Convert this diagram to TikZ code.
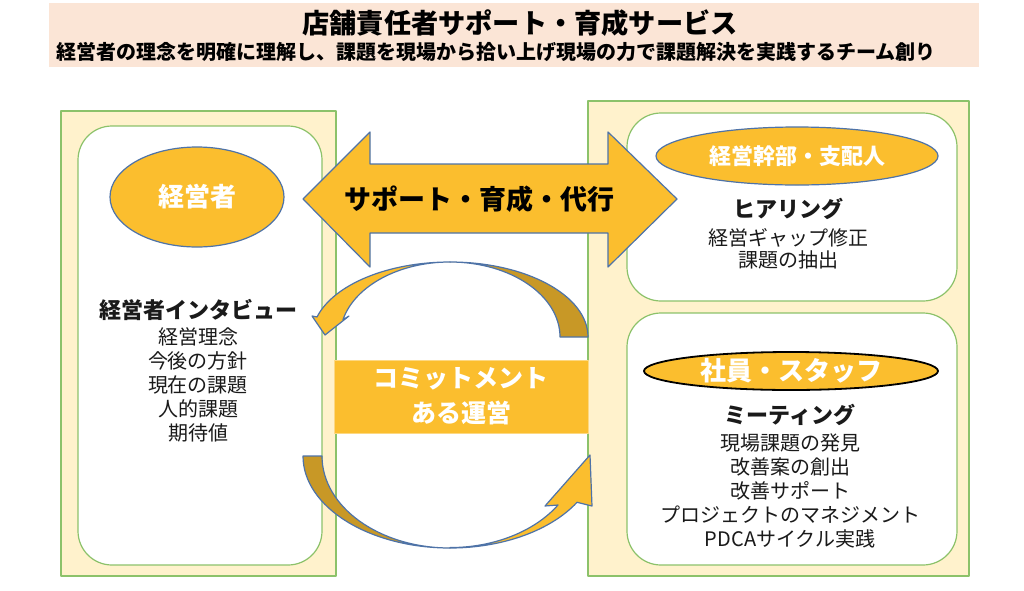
\documentclass[tikz,border=0pt]{standalone}
\usepackage{fontspec}
\setmainfont{Noto Sans CJK JP}
\usetikzlibrary{shapes.geometric}
\definecolor{peach}{HTML}{FBE5D6}
\definecolor{cream}{HTML}{FFF2CC}
\definecolor{leaf}{HTML}{8CC26A}
\definecolor{gold}{HTML}{FBBE2E}
\definecolor{darkgold}{HTML}{C89826}
\definecolor{steel}{HTML}{4E73A8}
\definecolor{ink}{HTML}{1A1A1A}
\begin{document}
\begin{tikzpicture}[x=0.5pt, y=-0.5pt, line join=round,
	panel/.style={draw=leaf, fill=cream, line width=0.6pt},
	card/.style={draw=leaf, fill=white, line width=0.6pt, rounded corners=17pt},
	oval/.style={ellipse, draw=steel, fill=gold, line width=0.6pt, inner sep=0pt, text=white},
	band/.style={draw=steel, line width=0.6pt},
	txt/.style={align=center, text=ink, font=\fontsize{10}{12}\selectfont}]
	\useasboundingbox (0,0) rectangle (1024,590);
	% title band
	\fill[peach] (49,3) rectangle (979,67);
	\node (title) at (520,23) {\fontsize{13.6}{15}\selectfont\bfseries 店舗責任者サポート・育成サービス};
	\node (sub) at (496,52) {\fontsize{10}{12}\selectfont\bfseries 経営者の理念を明確に理解し、課題を現場から拾い上げ現場の力で課題解決を実践するチーム創り};
	% panels
	\draw[panel] (61,111) rectangle (336,576);
	\draw[card] (78,126) rectangle (322,565);
	\draw[panel] (588,101) rectangle (969,576);
	\draw[card] (627,113) rectangle (957,301);
	\draw[card] (627,313) rectangle (957,565);
	% left side
	\node[oval, minimum width=87pt, minimum height=50pt, font=\fontsize{13}{15}\selectfont\bfseries] (owner) at (197,197) {経営者};
	\node[txt] (interview) at (198,371) {{\fontsize{11}{12}\selectfont\bfseries 経営者インタビュー}\\[1pt]
		経営理念\\今後の方針\\現在の課題\\人的課題\\期待値};
	% right side
	\node[oval, minimum width=141pt, minimum height=29pt, font=\fontsize{11}{13}\selectfont\bfseries] (exec) at (797,156) {経営幹部・支配人};
	\node[txt, font=\fontsize{10}{11}\selectfont] (hearing) at (788,234) {{\fontsize{11}{12}\selectfont\bfseries ヒアリング}\\[3pt]
		経営ギャップ修正\\課題の抽出};
	\node[oval, draw=black, line width=0.9pt, minimum width=147pt, minimum height=19pt, font=\fontsize{13}{15}\selectfont\bfseries] (staff) at (791,371) {社員・スタッフ};
	\node[txt] (meeting) at (790,476) {{\fontsize{11}{12}\selectfont\bfseries ミーティング}\\[1.5pt]
		現場課題の発見\\改善案の創出\\改善サポート\\プロジェクトのマネジメント\\PDCAサイクル実践};
	% double arrow
	\draw[band, fill=gold] (303,199)--(370,132)--(370,164)--(608,164)--(608,132)--(677,199)
		--(608,267)--(608,233)--(370,233)--(370,267)--cycle;
	\node (support) at (479,199) {\fontsize{13.5}{15}\selectfont\bfseries サポート・育成・代行};
	% curved arrows
	\draw[band, fill=darkgold] (588,337) arc[start angle=0, end angle=-90, x radius=138, y radius=75]
		arc[start angle=-90, end angle=0, x radius=110, y radius=75] -- cycle;
	\draw[band, fill=gold] (450,262) arc[start angle=-90, end angle=-164.5, x radius=138, y radius=75]
		-- (312,316) -- (325,335) -- (349,316) -- (343,319.6)
		arc[start angle=-166.6, end angle=-90, x radius=110, y radius=75] -- cycle;
	\draw[band, fill=darkgold] (303,456) arc[start angle=180, end angle=90, x radius=147, y radius=92]
		arc[start angle=90, end angle=180, x radius=128, y radius=92] -- cycle;
	\draw[band, fill=gold] (450,548) arc[start angle=90, end angle=30.2, x radius=147, y radius=92]
		-- (592,506) -- (590,455) -- (545,506) -- (558,505)
		arc[start angle=32.5, end angle=90, x radius=128, y radius=92] -- cycle;
	% commitment
	\node[draw=gold!60, fill=gold, minimum width=127pt, minimum height=36.5pt, inner sep=0pt, text=white, align=center,
		font=\fontsize{12.5}{17.5}\selectfont\bfseries] (commit) at (461,396.5) {コミットメント\\ある運営};
\end{tikzpicture}
\end{document}
